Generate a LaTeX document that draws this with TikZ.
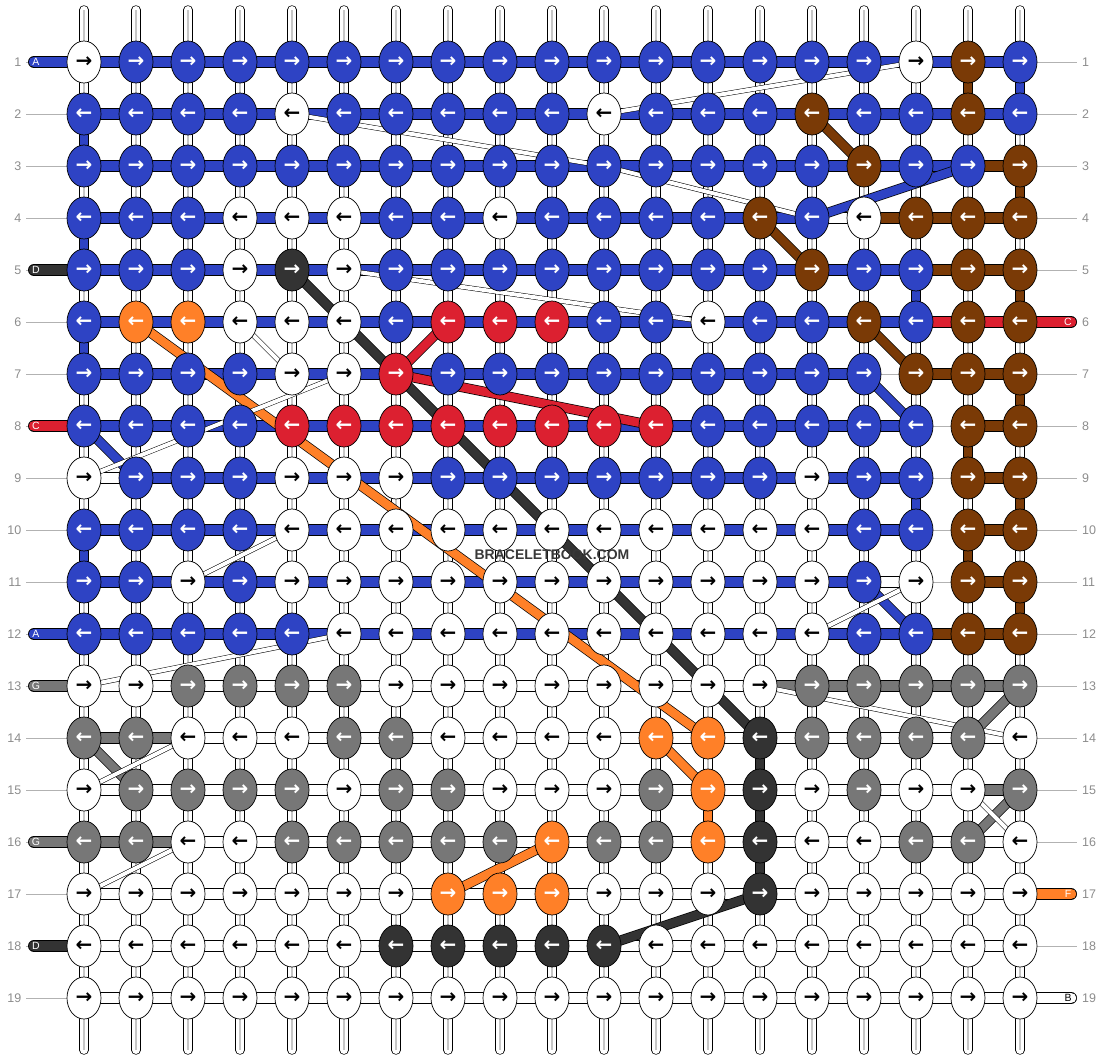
\documentclass[tikz,border=0pt]{standalone}
\usepackage{fontspec}
\setmainfont{Liberation Sans}
\newfontfamily\arrowfont{DejaVu Sans}
\usetikzlibrary{shapes.geometric}

% knot colours (c..) and arrow colours (a..)
\definecolor{cW}{RGB}{255,255,255}
\definecolor{cB}{RGB}{46,67,196}
\definecolor{cN}{RGB}{122,58,6}
\definecolor{cR}{RGB}{220,32,48}
\definecolor{cO}{RGB}{255,128,40}
\definecolor{cK}{RGB}{51,51,51}
\definecolor{cG}{RGB}{119,119,119}
\colorlet{aW}{black}
\colorlet{aB}{white}
\colorlet{aN}{white}
\colorlet{aR}{white}
\colorlet{aO}{white}
\colorlet{aK}{white}
\colorlet{aG}{white}

\tikzset{
  knot/.style={ellipse, draw=black, line width=0.7pt, minimum width=34pt,
    minimum height=42pt, inner sep=0pt,
    font=\arrowfont\bfseries\fontsize{20}{20}\selectfont},
  strand/.style={double=#1, double distance=8.6pt, line width=0.7pt},
  hband/.style={double=#1, double distance=10.6pt, line width=0.7pt},
  lband/.style={hband=#1, line cap=round},
  wstrip/.style={double=white, double distance=4pt, line width=0.5pt},
  vstring/.style={double=white, double distance=8pt, line width=0.7pt, line cap=round},
  vcore/.style={draw=black!22, line width=1.3pt},
  rowline/.style={draw=black!30, line width=0.8pt},
  rownum/.style={text=black!45, inner sep=0pt, font=\fontsize{12.5}{12.5}\selectfont},
  tag/.style={inner sep=0pt, font=\fontsize{10.5}{10.5}\selectfont},
  wmtext/.style={text=black!78, font=\bfseries\fontsize{14}{14}\selectfont}
}

\begin{document}
\begin{tikzpicture}[x=1pt,y=-1pt]
  \useasboundingbox (0,0) rectangle (1104,1060);

  % grid points
  \foreach \r in {1,...,19}
    \foreach \j in {1,...,19}
      \coordinate (p-\r-\j) at ({84+52*(\j-1)},{62+52*(\r-1)});

  % row numbers and guide lines
  \foreach \r in {1,...,19} {
    \coordinate (ga-\r) at (26,{62+52*(\r-1)});
    \coordinate (gb-\r) at (1077,{62+52*(\r-1)});
    \draw[rowline] (ga-\r) -- (gb-\r);
    \node[rownum, anchor=east] (nl-\r) at (21.5,{62+52*(\r-1)}) {\r};
    \node[rownum, anchor=west] (nr-\r) at (1082,{62+52*(\r-1)}) {\r};
  }

  % vertical strings
  \foreach \j in {1,...,19} {
    \coordinate (t-\j) at ({84+52*(\j-1)},10);
    \coordinate (u-\j) at ({84+52*(\j-1)},1050);
    \draw[vstring] (t-\j) -- (u-\j);
    \draw[vcore] (t-\j) -- (u-\j);
  }

  % horizontal bands: row/from/to/colour
  \foreach \r/\a/\b/\k in {1/1/19/B, 2/1/19/B, 3/1/18/B, 3/18/19/N,
      4/1/15/B, 4/15/16/W, 4/16/19/N, 5/1/17/B, 5/17/19/N,
      6/1/17/B, 6/17/19/R, 7/1/16/B, 7/17/19/N, 8/1/17/B, 8/18/19/N,
      9/1/2/W, 9/2/17/B, 9/18/19/N, 10/1/17/B, 10/18/19/N,
      11/1/16/B, 11/16/17/W, 11/18/19/N, 12/1/17/B, 12/17/19/N,
      13/1/14/W, 13/14/19/G, 14/1/3/G, 14/3/19/W, 15/1/18/W, 15/18/19/G,
      16/1/3/G, 16/3/19/W, 17/1/19/W, 18/1/19/W, 19/1/19/W}
    \draw[hband=c\k] (p-\r-\a) -- (p-\r-\b);

  % string ends with letters
  \foreach \r/\lab/\k in {1/A/B, 5/D/K, 8/C/R, 12/A/B, 13/G/G, 16/G/G, 18/D/K} {
    \coordinate (le-\r) at (34,{62+52*(\r-1)});
    \draw[lband=c\k] (le-\r) -- (p-\r-1);
    \node[tag, text=a\k] (lt-\r) at (36,{62+52*(\r-1)}) {\lab};
  }
  \foreach \r/\lab/\k in {6/C/R, 17/F/O, 19/B/W} {
    \coordinate (re-\r) at (1071,{62+52*(\r-1)});
    \draw[lband=c\k] (p-\r-19) -- (re-\r);
    \node[tag, text=a\k] (rt-\r) at (1068,{62+52*(\r-1)}) {\lab};
  }

  % turns between rows
  \foreach \a/\b/\k in {1-19/2-19/B, 1-18/2-18/N, 2-1/3-1/B, 3-19/4-19/N,
      4-1/5-1/B, 5-19/6-19/N, 5-17/6-17/B, 6-1/7-1/B, 7-19/8-19/N,
      8-18/9-18/N, 9-19/10-19/N, 9-17/10-17/B, 10-1/11-1/B, 10-18/11-18/N,
      11-19/12-19/N, 14-14/15-14/K, 15-14/16-14/K, 16-14/17-14/K, 15-13/16-13/O}
    \draw[strand=c\k] (p-\a) -- (p-\b);

  % coloured strings crossing rows
  \foreach \a/\b/\k in {2-15/3-16/N, 4-14/5-15/N, 6-16/7-17/N,
      3-18/4-15/B, 7-16/8-17/B, 8-1/9-2/B, 11-16/12-17/B,
      5-5/14-14/K, 17-14/18-11/K,
      6-2/14-13/O, 14-12/15-13/O, 16-10/17-8/O,
      13-19/14-18/G, 14-1/15-2/G, 15-19/16-18/G,
      7-7/6-8/R, 7-7/8-12/R}
    \draw[strand=c\k] (p-\a) -- (p-\b);

  % white strings crossing rows
  \foreach \a/\b in {2-11/1-17, 2-5/3-11, 3-11/4-15, 5-6/6-13, 6-4/7-5,
      9-1/7-6, 11-3/10-5, 13-1/12-6, 12-15/11-17, 13-14/14-19,
      15-1/14-3, 17-1/16-3, 15-18/16-19}
    \draw[wstrip] (p-\a) -- (p-\b);

  % knots
  \foreach \r/\cols in {
      1/{W,B,B,B,B,B,B,B,B,B,B,B,B,B,B,B,W,N,B},
      2/{B,B,B,B,W,B,B,B,B,B,W,B,B,B,N,B,B,N,B},
      3/{B,B,B,B,B,B,B,B,B,B,B,B,B,B,B,N,B,B,N},
      4/{B,B,B,W,W,W,B,B,W,B,B,B,B,N,B,W,N,N,N},
      5/{B,B,B,W,K,W,B,B,B,B,B,B,B,B,N,B,B,N,N},
      6/{B,O,O,W,W,W,B,R,R,R,B,B,W,B,B,N,B,N,N},
      7/{B,B,B,B,W,W,R,B,B,B,B,B,B,B,B,B,N,N,N},
      8/{B,B,B,B,R,R,R,R,R,R,R,R,B,B,B,B,B,N,N},
      9/{W,B,B,B,W,W,W,B,B,B,B,B,B,B,W,B,B,N,N},
      10/{B,B,B,B,W,W,W,W,W,W,W,W,W,W,W,B,B,N,N},
      11/{B,B,W,B,W,W,W,W,W,W,W,W,W,W,W,B,W,N,N},
      12/{B,B,B,B,B,W,W,W,W,W,W,W,W,W,W,B,B,N,N},
      13/{W,W,G,G,G,G,W,W,W,W,W,W,W,W,G,G,G,G,G},
      14/{G,G,W,W,W,G,G,W,W,W,W,O,O,K,G,G,G,G,W},
      15/{W,G,G,G,G,W,G,G,W,W,W,G,O,K,W,G,W,W,G},
      16/{G,G,W,W,G,G,G,G,G,O,G,G,O,K,W,W,G,G,W},
      17/{W,W,W,W,W,W,W,O,O,O,W,W,W,K,W,W,W,W,W},
      18/{W,W,W,W,W,W,K,K,K,K,K,W,W,W,W,W,W,W,W},
      19/{W,W,W,W,W,W,W,W,W,W,W,W,W,W,W,W,W,W,W}} {
    \foreach \k [count=\j] in \cols
      \node[knot, fill=c\k, text=a\k] (k-\r-\j) at (p-\r-\j)
        {\ifodd\r\relax →\else ←\fi};
  }

  \node[wmtext] (wm) at (552,555) {BRACELETBOOK.COM};
\end{tikzpicture}
\end{document}
